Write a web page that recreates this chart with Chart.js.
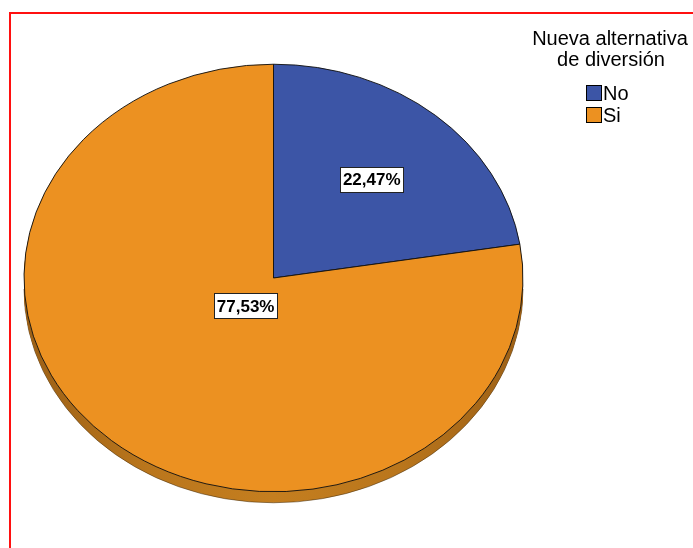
<!DOCTYPE html>
<html><head><meta charset="utf-8">
<script src="https://cdn.jsdelivr.net/npm/chart.js@4.4.0/dist/chart.umd.min.js"></script>
<style>
html,body{margin:0;padding:0;background:#fff;}
#wrap{position:relative;width:693px;height:548px;overflow:hidden;}
#frame{position:absolute;left:9px;top:12px;width:800px;height:700px;border-left:2px solid #ff1010;border-top:2px solid #ff1010;}
canvas{position:absolute;left:0;top:0;}
</style></head><body>
<div id="wrap"><div id="frame"></div><canvas id="c" width="693" height="548"></canvas></div>
<script>
const legendTitle = ['Nueva alternativa', 'de diversión'];
const categories = ['No', 'Si'];
const percentages = [22.47, 77.53];
const sliceColors = ['#3C55A6', '#EC9121'];
const sideColors = ['#2A3C78', '#B8731B'];

const K = 213.6 / 249.3;   // vertical squash of the pie (perspective)
const DEPTH = 11;          // 3D rim thickness in px
const labelFactors = [0.607, 0.172];

const ellipse3d = {
  id: 'ellipse3d',
  beforeDatasetsDraw(chart) {
    const ctx = chart.ctx;
    const meta = chart.getDatasetMeta(0);
    const a0 = meta.data[0];
    const cx = a0.x, cy = a0.y, R = a0.outerRadius;
    ctx.save();
    for (let d = DEPTH; d >= 1; d--) {
      ctx.save();
      ctx.translate(cx, cy + d);
      ctx.scale(1, K);
      meta.data.forEach((arc, i) => {
        const g = ctx.createLinearGradient(-R, 0, R, 0);
        if (i === 1) {
          g.addColorStop(0, '#9C6016');
          g.addColorStop(0.25, '#BA761C');
          g.addColorStop(0.5, '#C47E1F');
          g.addColorStop(0.75, '#BA761C');
          g.addColorStop(1, '#9C6016');
        } else {
          g.addColorStop(0, sideColors[i]);
          g.addColorStop(1, sideColors[i]);
        }
        ctx.beginPath();
        ctx.moveTo(0, 0);
        ctx.arc(0, 0, arc.outerRadius, arc.startAngle, arc.endAngle);
        ctx.closePath();
        ctx.fillStyle = g;
        ctx.fill();
      });
      if (d === DEPTH) {
        ctx.beginPath();
        ctx.arc(0, 0, R, 0, Math.PI);
        ctx.lineWidth = 1;
        ctx.strokeStyle = 'rgba(70,45,10,0.6)';
        ctx.stroke();
      }
      ctx.restore();
    }
    ctx.restore();
    ctx.save();
    ctx.translate(cx, cy);
    ctx.scale(1, K);
    ctx.translate(-cx, -cy);
  },
  afterDatasetsDraw(chart) {
    chart.ctx.restore();
  },
  afterDraw(chart) {
    const ctx = chart.ctx;
    const meta = chart.getDatasetMeta(0);
    ctx.save();
    ctx.font = 'bold 17px "Liberation Sans", Arial, sans-serif';
    ctx.textAlign = 'center';
    ctx.textBaseline = 'middle';
    meta.data.forEach((arc, i) => {
      const mid = (arc.startAngle + arc.endAngle) / 2;
      const f = labelFactors[i];
      const x = arc.x + Math.cos(mid) * arc.outerRadius * f;
      const y = arc.y + Math.sin(mid) * arc.outerRadius * f * K;
      const txt = percentages[i].toFixed(2).replace('.', ',') + '%';
      const w = ctx.measureText(txt).width + 5;
      const h = 25;
      ctx.fillStyle = '#fff';
      ctx.fillRect(Math.round(x - w / 2) + 0.5, Math.round(y - h / 2) + 0.5, Math.round(w), h);
      ctx.strokeStyle = '#222';
      ctx.lineWidth = 1;
      ctx.strokeRect(Math.round(x - w / 2) + 0.5, Math.round(y - h / 2) + 0.5, Math.round(w), h);
      ctx.fillStyle = '#000';
      ctx.fillText(txt, x, y + 1);
    });
    ctx.textAlign = 'center';
    ctx.textBaseline = 'alphabetic';
    ctx.font = '20px "Liberation Sans", Arial, sans-serif';
    ctx.fillStyle = '#000';
    ctx.fillText(legendTitle[0], 610, 45);
    ctx.fillText(legendTitle[1], 611, 66);
    ctx.textAlign = 'left';
    ctx.font = '20px "Liberation Sans", Arial, sans-serif';
    categories.forEach((c, i) => {
      const by = 85 + i * 22;
      ctx.fillStyle = sliceColors[i];
      ctx.fillRect(586.5, by + 0.5, 15, 15);
      ctx.strokeStyle = '#000';
      ctx.lineWidth = 1;
      ctx.strokeRect(586.5, by + 0.5, 15, 15);
      ctx.fillStyle = '#000';
      ctx.fillText(c, 603, by + 15);
    });
    ctx.restore();
  }
};

new Chart(document.getElementById('c'), {
  type: 'pie',
  data: {
    labels: categories,
    datasets: [{
      data: percentages,
      backgroundColor: sliceColors,
      borderColor: '#111',
      borderWidth: 1
    }]
  },
  options: {
    responsive: false,
    animation: false,
    devicePixelRatio: 1,
    layout: { padding: { left: 23, right: 169, top: 28, bottom: 20 } },
    plugins: { legend: { display: false }, tooltip: { enabled: false } }
  },
  plugins: [ellipse3d]
});
</script>
</body></html>
